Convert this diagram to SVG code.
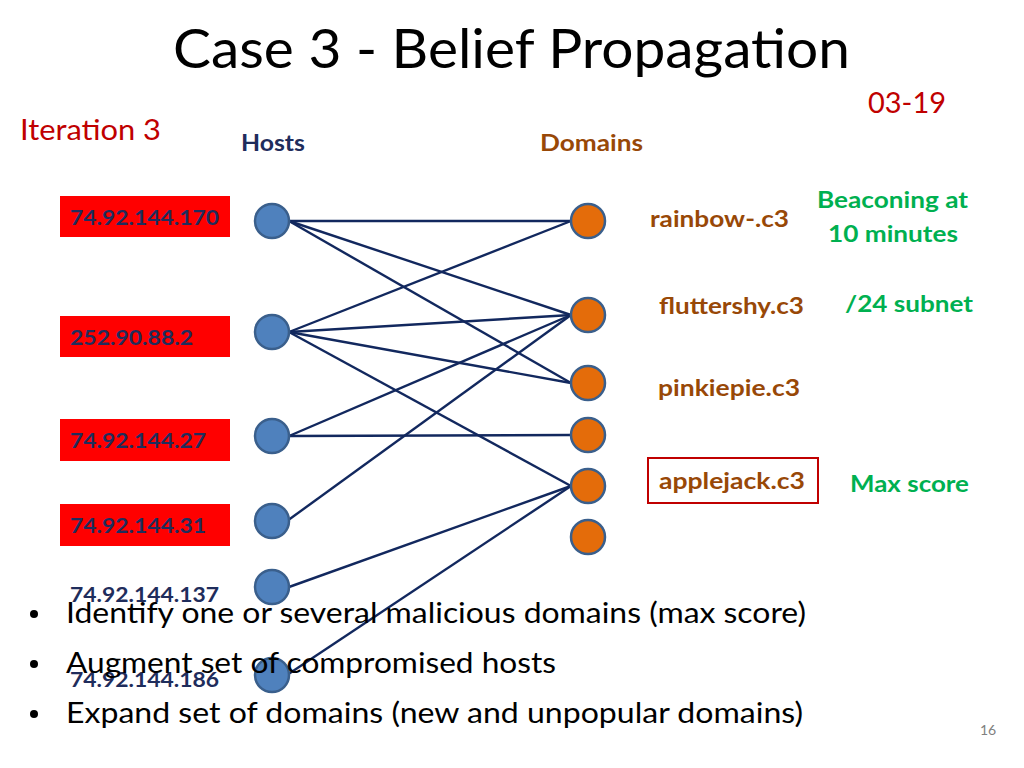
<svg xmlns="http://www.w3.org/2000/svg" width="1024" height="768" viewBox="0 0 1024 768">
<style>
text{font-family:Lato,"Open Sans","Liberation Sans",sans-serif}
.host{fill:#4f81bd;stroke:#3a5f8c;stroke-width:2.5}
.dom{fill:#e46c0a;stroke:#3a5f8c;stroke-width:2.5}
.edge{stroke:#12285e;stroke-width:2.4;fill:none}
.ipbox{fill:#ff0000}
.ip{font-size:21px;font-weight:bold;fill:#1f2d5c}
.dl{font-size:22px;font-weight:bold;fill:#984807}
.gn{font-size:22px;font-weight:bold;fill:#00b050}
.bul{font-size:28px;fill:#000}
</style>
<rect width="1024" height="768" fill="#fff"/>
<text x="173" y="68" font-size="54" fill="#000" textLength="677" lengthAdjust="spacingAndGlyphs">Case 3 - Belief Propagation</text>
<text x="868" y="113" font-size="28" fill="#c00000" textLength="78" lengthAdjust="spacingAndGlyphs">03-19</text>
<text x="20" y="140" font-size="28" fill="#c00000" textLength="141" lengthAdjust="spacingAndGlyphs">Iteration 3</text>
<text x="241" y="151" font-size="22" font-weight="bold" fill="#1f2d5c" textLength="64" lengthAdjust="spacingAndGlyphs">Hosts</text>
<text x="540" y="151" font-size="22" font-weight="bold" fill="#984807" textLength="103" lengthAdjust="spacingAndGlyphs">Domains</text>
<g id="connectors">
<line class="edge" x1="289" y1="221" x2="571" y2="221"/>
<line class="edge" x1="289" y1="221" x2="571" y2="315"/>
<line class="edge" x1="289" y1="221" x2="571" y2="383"/>
<line class="edge" x1="289" y1="332" x2="571" y2="221"/>
<line class="edge" x1="289" y1="332" x2="571" y2="315"/>
<line class="edge" x1="289" y1="332" x2="571" y2="383"/>
<line class="edge" x1="289" y1="332" x2="571" y2="486"/>
<line class="edge" x1="289" y1="436" x2="571" y2="315"/>
<line class="edge" x1="289" y1="436" x2="571" y2="435"/>
<line class="edge" x1="287" y1="521" x2="571" y2="315"/>
<line class="edge" x1="289" y1="587" x2="571" y2="486"/>
<line class="edge" x1="287" y1="675" x2="571" y2="486"/>
</g>
<g id="host1"><rect class="ipbox" x="60" y="196" width="170" height="41"/><text class="ip" x="70" y="225" textLength="149" lengthAdjust="spacingAndGlyphs">74.92.144.170</text><circle class="host" cx="272" cy="221" r="17"/></g>
<g id="host2"><rect class="ipbox" x="60" y="316" width="170" height="41"/><text class="ip" x="70" y="345" textLength="123" lengthAdjust="spacingAndGlyphs">252.90.88.2</text><circle class="host" cx="272" cy="332" r="17"/></g>
<g id="host3"><rect class="ipbox" x="60" y="419" width="170" height="42"/><text class="ip" x="70" y="448" textLength="136" lengthAdjust="spacingAndGlyphs">74.92.144.27</text><circle class="host" cx="272" cy="436" r="17"/></g>
<g id="host4"><rect class="ipbox" x="60" y="504" width="170" height="42"/><text class="ip" x="70" y="533" textLength="136" lengthAdjust="spacingAndGlyphs">74.92.144.31</text><circle class="host" cx="272" cy="521" r="17"/></g>
<g id="host5"><circle class="host" cx="272" cy="587" r="17"/><text class="ip" x="70" y="602" textLength="149" lengthAdjust="spacingAndGlyphs">74.92.144.137</text></g>
<g id="host6"><circle class="host" cx="272" cy="675" r="17"/><text class="ip" x="70" y="687" textLength="149" lengthAdjust="spacingAndGlyphs">74.92.144.186</text></g>
<g id="dom1"><circle class="dom" cx="588" cy="221" r="17"/><text class="dl" x="650" y="227" textLength="139" lengthAdjust="spacingAndGlyphs">rainbow-.c3</text></g>
<g id="dom2"><circle class="dom" cx="588" cy="315" r="17"/><text class="dl" x="659" y="314" textLength="145" lengthAdjust="spacingAndGlyphs">fluttershy.c3</text></g>
<g id="dom3"><circle class="dom" cx="588" cy="383" r="17"/><text class="dl" x="658" y="396" textLength="142" lengthAdjust="spacingAndGlyphs">pinkiepie.c3</text></g>
<g id="dom4"><circle class="dom" cx="588" cy="435" r="17"/></g>
<g id="dom5"><circle class="dom" cx="588" cy="486" r="17"/><rect x="648" y="458" width="170" height="45" fill="none" stroke="#c00000" stroke-width="2"/><text class="dl" x="659" y="489" textLength="146" lengthAdjust="spacingAndGlyphs">applejack.c3</text></g>
<g id="dom6"><circle class="dom" cx="588" cy="537" r="17"/></g>
<g id="notes">
<text class="gn" x="817" y="208" textLength="151" lengthAdjust="spacingAndGlyphs">Beaconing at</text>
<text class="gn" x="828" y="242" textLength="130" lengthAdjust="spacingAndGlyphs">10 minutes</text>
<text class="gn" x="845" y="312" textLength="128" lengthAdjust="spacingAndGlyphs">/24 subnet</text>
<text class="gn" x="850" y="492" textLength="119" lengthAdjust="spacingAndGlyphs">Max score</text>
</g>
<g id="bullets">
<circle cx="34" cy="614" r="4" fill="#000"/>
<circle cx="34" cy="664" r="4" fill="#000"/>
<circle cx="34" cy="714" r="4" fill="#000"/>
<text class="bul" x="66" y="623" textLength="740" lengthAdjust="spacingAndGlyphs">Identify one or several malicious domains (max score)</text>
<text class="bul" x="66" y="673" textLength="490" lengthAdjust="spacingAndGlyphs">Augment set of compromised hosts</text>
<text class="bul" x="66" y="723" textLength="737" lengthAdjust="spacingAndGlyphs">Expand set of domains (new and unpopular domains)</text>
</g>
<text x="980" y="735" font-size="14" fill="#808080">16</text>
</svg>
